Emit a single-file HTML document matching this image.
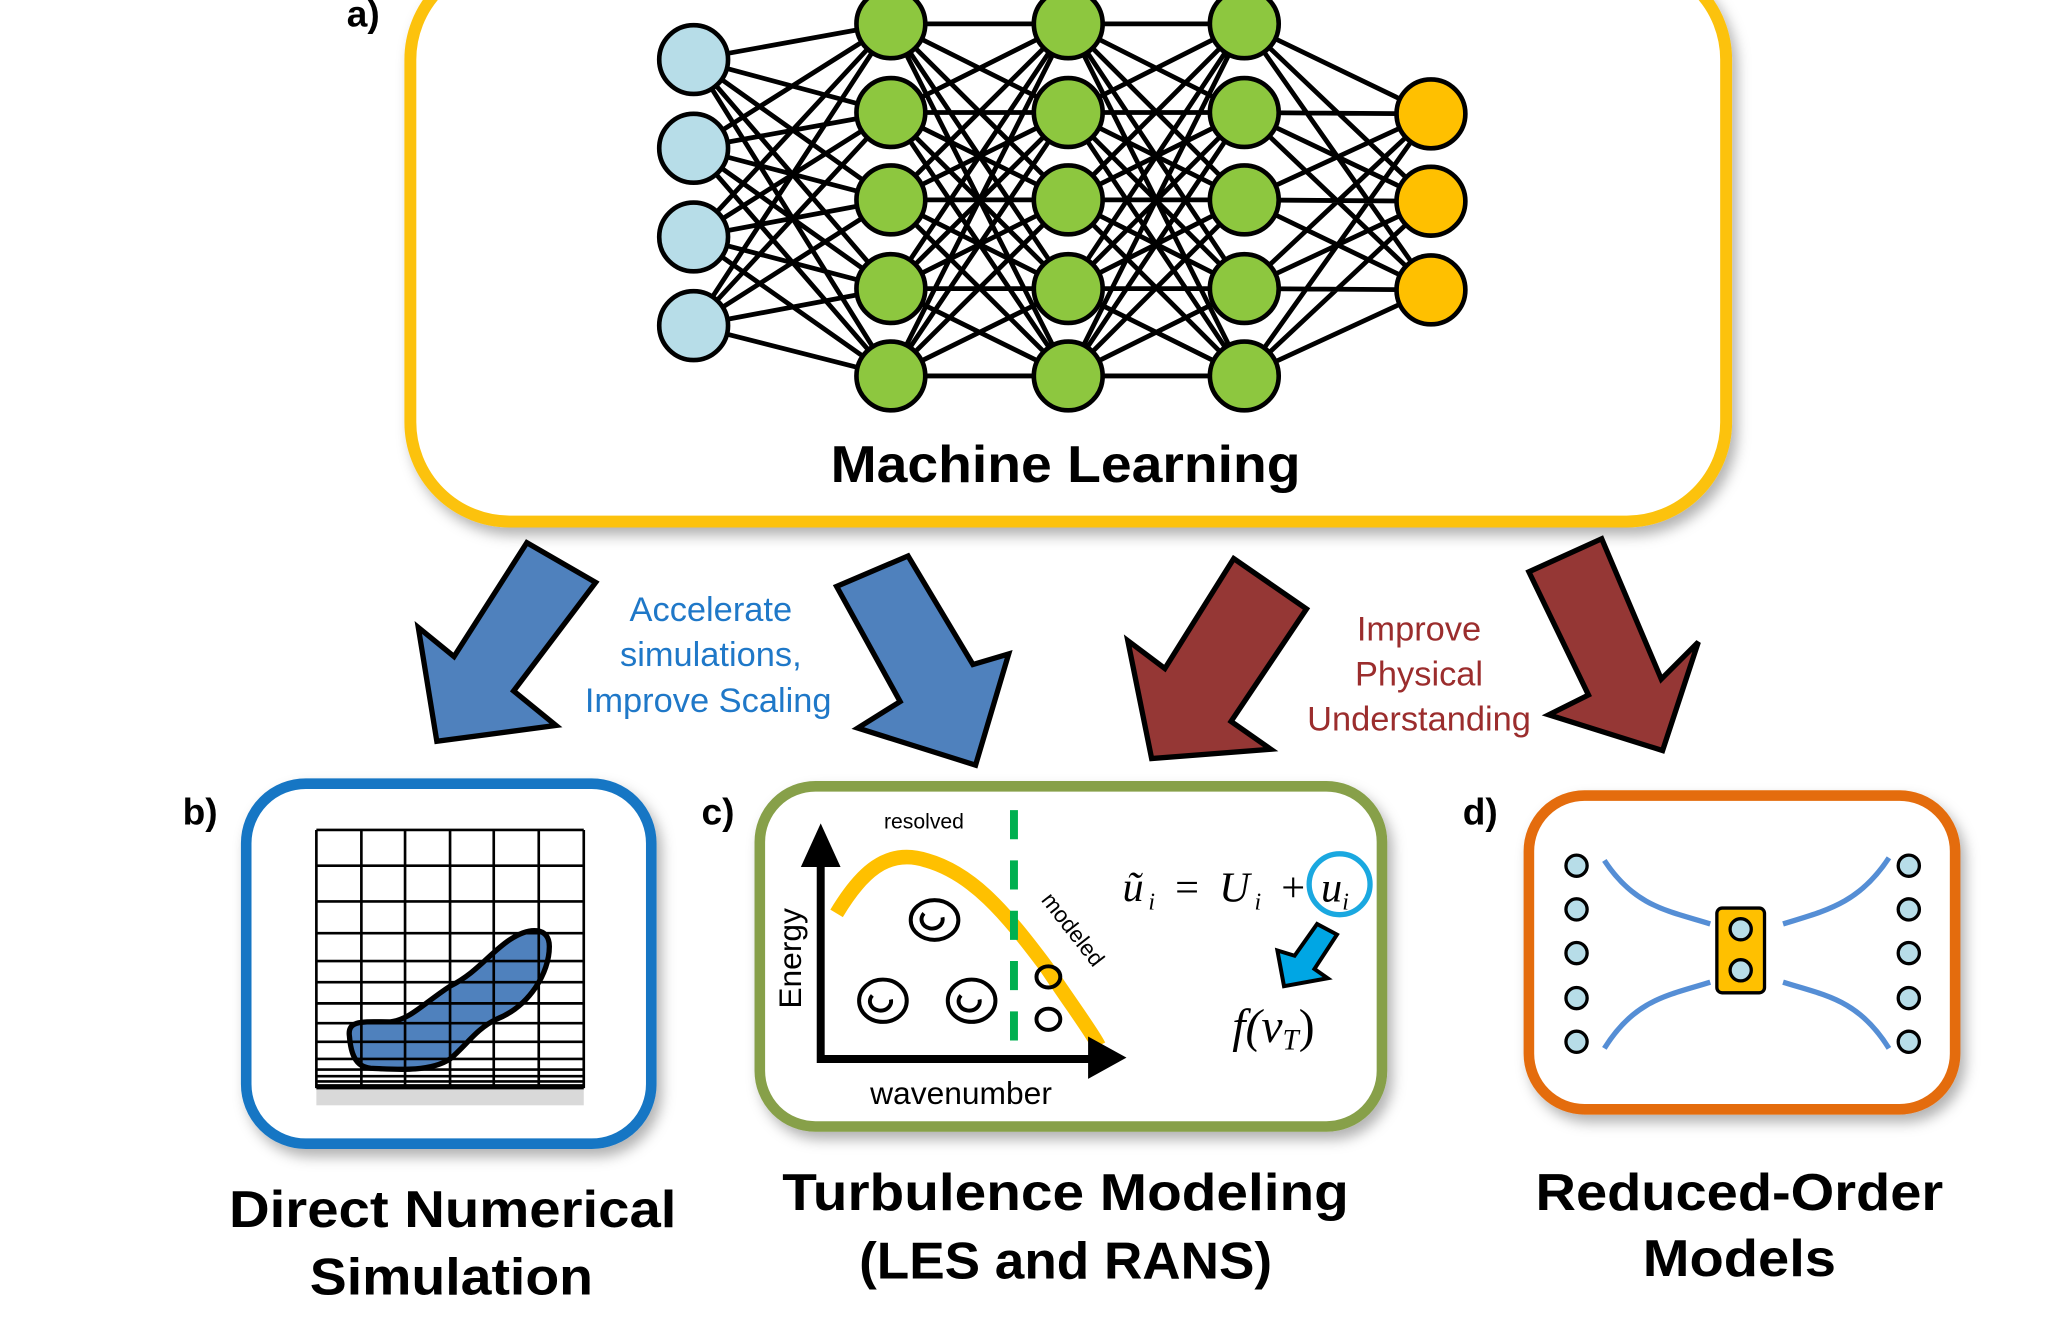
<!DOCTYPE html>
<html><head><meta charset="utf-8"><style>html,body{margin:0;padding:0;background:#fff}svg{display:block}</style></head>
<body>
<svg width="2065" height="1322" viewBox="0 0 1560 998.7" preserveAspectRatio="none" xmlns="http://www.w3.org/2000/svg" font-family="'Liberation Sans', 'DejaVu Sans', sans-serif">
<defs>
<filter id="sh" x="-10%" y="-10%" width="130%" height="130%"><feDropShadow dx="4" dy="6" stdDeviation="5" flood-color="#000" flood-opacity="0.3"/></filter>
</defs>
<rect width="1560" height="1000" fill="#fff"/>
<rect x="310" y="-30" width="994" height="424" rx="75" fill="#fff" stroke="#fcc20a" stroke-width="9" filter="url(#sh)"/>
<text x="262" y="20" font-size="28" font-weight="bold">a)</text>
<g stroke="#000" stroke-width="3.6" fill="none">
<path d="M524 45L673 18M524 45L673 85M524 45L673 151M524 45L673 218M524 45L673 284M524 112L673 18M524 112L673 85M524 112L673 151M524 112L673 218M524 112L673 284M524 179L673 18M524 179L673 85M524 179L673 151M524 179L673 218M524 179L673 284M524 246L673 18M524 246L673 85M524 246L673 151M524 246L673 218M524 246L673 284"/>
<path d="M673 18L807 18M673 18L807 85M673 18L807 151M673 18L807 218M673 18L807 284M673 85L807 18M673 85L807 85M673 85L807 151M673 85L807 218M673 85L807 284M673 151L807 18M673 151L807 85M673 151L807 151M673 151L807 218M673 151L807 284M673 218L807 18M673 218L807 85M673 218L807 151M673 218L807 218M673 218L807 284M673 284L807 18M673 284L807 85M673 284L807 151M673 284L807 218M673 284L807 284"/>
<path d="M807 18L940 18M807 18L940 85M807 18L940 151M807 18L940 218M807 18L940 284M807 85L940 18M807 85L940 85M807 85L940 151M807 85L940 218M807 85L940 284M807 151L940 18M807 151L940 85M807 151L940 151M807 151L940 218M807 151L940 284M807 218L940 18M807 218L940 85M807 218L940 151M807 218L940 218M807 218L940 284M807 284L940 18M807 284L940 85M807 284L940 151M807 284L940 218M807 284L940 284"/>
<path d="M940 18L1081 86M940 18L1081 152M940 18L1081 219M940 85L1081 86M940 85L1081 152M940 85L1081 219M940 151L1081 86M940 151L1081 152M940 151L1081 219M940 218L1081 86M940 218L1081 152M940 218L1081 219M940 284L1081 86M940 284L1081 152M940 284L1081 219"/>
</g>
<g stroke="#000" stroke-width="3.5">
<g fill="#b7dde8"><circle cx="524" cy="45" r="26"/><circle cx="524" cy="112" r="26"/><circle cx="524" cy="179" r="26"/><circle cx="524" cy="246" r="26"/></g>
<g fill="#8dc73f">
<circle cx="673" cy="18" r="26"/><circle cx="673" cy="85" r="26"/><circle cx="673" cy="151" r="26"/><circle cx="673" cy="218" r="26"/><circle cx="673" cy="284" r="26"/>
<circle cx="807" cy="18" r="26"/><circle cx="807" cy="85" r="26"/><circle cx="807" cy="151" r="26"/><circle cx="807" cy="218" r="26"/><circle cx="807" cy="284" r="26"/>
<circle cx="940" cy="18" r="26"/><circle cx="940" cy="85" r="26"/><circle cx="940" cy="151" r="26"/><circle cx="940" cy="218" r="26"/><circle cx="940" cy="284" r="26"/>
</g>
<g fill="#ffc000"><circle cx="1081" cy="86" r="26"/><circle cx="1081" cy="152" r="26"/><circle cx="1081" cy="219" r="26"/></g>
</g>
<text x="805" y="364" font-size="39" font-weight="bold" text-anchor="middle" textLength="355" lengthAdjust="spacingAndGlyphs">Machine Learning</text>
<g stroke="#000" stroke-width="4" stroke-linejoin="miter">
<polygon fill="#4f81bd" points="398,410 450,440 388,522 420,548 330,560 316,474 343,496"/>
<polygon fill="#4f81bd" points="632,443 686,420 735,502 762,494 737,578 648,550 680,530"/>
<polygon fill="#953735" points="932,422 987,460 930,545 960,566 870,573 852,484 880,505"/>
<polygon fill="#953735" points="1155,432 1210,407 1255,513 1283,485 1256,567 1170,540 1200,525"/>
</g>
<g font-size="26" fill="#1f78c8" text-anchor="middle">
<text x="537" y="469">Accelerate</text>
<text x="537" y="503">simulations,</text>
<text x="535" y="538">Improve Scaling</text>
</g>
<g font-size="26" fill="#9b2d2d" text-anchor="middle">
<text x="1072" y="484">Improve</text>
<text x="1072" y="518">Physical</text>
<text x="1072" y="552">Understanding</text>
</g>
<text x="138" y="623" font-size="28" font-weight="bold">b)</text>
<rect x="186" y="592" width="306" height="272" rx="45" fill="#fff" stroke="#1676c4" stroke-width="8" filter="url(#sh)"/>
<rect x="239" y="822" width="202" height="13" fill="#d9d9d9"/>
<path d="M264 783C262 770 275 772 295 772C310 770 320 758 340 745C360 735 370 720 385 710C400 700 415 700 415 715C415 735 400 760 375 770C360 777 352 790 340 800C325 810 300 808 280 807C268 806 265 795 264 783Z" fill="#4f81bd" stroke="#000" stroke-width="4"/>
<g stroke="#000" stroke-width="2" fill="none">
<path d="M239 627V822M273 627V822M306 627V822M340 627V822M373 627V822M407 627V822M441 627V822"/>
<path d="M239 627H441M239 654H441M239 681H441M239 705H441M239 726H441M239 742H441M239 758H441M239 773H441M239 787H441M239 800H441M239 808H441M239 813H441M239 817H441"/>
<path d="M239 821H441" stroke-width="4"/>
</g>
<text x="530" y="623" font-size="28" font-weight="bold">c)</text>
<rect x="574" y="594" width="470" height="257" rx="42" fill="#fff" stroke="#87a04a" stroke-width="8" filter="url(#sh)"/>
<path d="M632 690C650 660 670 640 700 650C735 660 760 690 790 730C810 760 825 780 830 790" fill="none" stroke="#ffc000" stroke-width="11"/>
<path d="M766 612V800" stroke="#00b050" stroke-width="6" stroke-dasharray="22 16"/>
<g stroke="#000" stroke-width="6" fill="none"><path d="M620 802V650M617 800H825"/></g>
<polygon points="605,655 620,622 635,655" fill="#000"/>
<polygon points="822,783 851,799 822,815" fill="#000"/>
<g fill="none" stroke="#000" stroke-width="3">
<ellipse cx="706" cy="695" rx="18" ry="15"/><path d="M698 690a8 7 0 1 0 14 3"/>
<ellipse cx="667" cy="756" rx="18" ry="16"/><path d="M659 752a8 7 0 1 0 14 3"/>
<ellipse cx="734" cy="756" rx="18" ry="16"/><path d="M726 752a8 7 0 1 0 14 3"/>
<ellipse cx="792" cy="738" rx="9" ry="8"/><ellipse cx="792" cy="770" rx="9" ry="8"/>
</g>
<text x="698" y="626" font-size="16" text-anchor="middle">resolved</text>
<text transform="translate(786,680) rotate(52)" font-size="17">modeled</text>
<text transform="translate(605,762) rotate(-90)" font-size="24">Energy</text>
<text x="726" y="834" font-size="24" text-anchor="middle">wavenumber</text>
<text x="848" y="681" font-size="32" font-style="italic" font-family="'Liberation Serif', serif" textLength="138" lengthAdjust="spacing">ũ<tspan font-size="18" dy="6">i</tspan><tspan dy="-6" font-style="normal"> = </tspan>U<tspan font-size="18" dy="6">i</tspan><tspan dy="-6" font-style="normal"> +</tspan></text>
<text x="998" y="681" font-size="32" font-style="italic" font-family="'Liberation Serif', serif">u<tspan font-size="18" dy="6">i</tspan></text>
<circle cx="1012" cy="668" r="23" fill="none" stroke="#1aa8e0" stroke-width="4"/>
<polygon points="995,698 1010,706 993,732 1003,739 970,745 965,718 978,722" fill="#00a6e4" stroke="#000" stroke-width="3"/>
<text x="962" y="787" font-size="36" font-style="italic" font-family="'Liberation Serif', serif" text-anchor="middle">f(ν<tspan font-size="22" dy="6">T</tspan><tspan dy="-6" font-style="normal">)</tspan></text>
<text x="1105" y="623" font-size="28" font-weight="bold">d)</text>
<rect x="1155" y="601" width="322" height="237" rx="42" fill="#fff" stroke="#e46c0a" stroke-width="8" filter="url(#sh)"/>
<g fill="none" stroke="#558ed5" stroke-width="4">
<path d="M1212 650C1235 685 1260 688 1292 698"/><path d="M1212 792C1235 755 1260 752 1292 742"/>
<path d="M1427 648C1404 683 1379 688 1347 698"/><path d="M1427 792C1404 755 1379 752 1347 742"/>
</g>
<rect x="1297" y="686" width="36" height="64" rx="4" fill="#ffc000" stroke="#000" stroke-width="2.5"/>
<g fill="#b7dde8" stroke="#000" stroke-width="2.5">
<circle cx="1315" cy="702" r="8"/><circle cx="1315" cy="733" r="8"/>
<circle cx="1191" cy="654" r="8"/><circle cx="1191" cy="687" r="8"/><circle cx="1191" cy="720" r="8"/><circle cx="1191" cy="754" r="8"/><circle cx="1191" cy="787" r="8"/>
<circle cx="1442" cy="654" r="8"/><circle cx="1442" cy="687" r="8"/><circle cx="1442" cy="720" r="8"/><circle cx="1442" cy="754" r="8"/><circle cx="1442" cy="787" r="8"/>
</g>
<g font-size="39" font-weight="bold" text-anchor="middle">
<text x="342" y="927" textLength="338" lengthAdjust="spacingAndGlyphs">Direct Numerical</text>
<text x="341" y="978" textLength="214" lengthAdjust="spacingAndGlyphs">Simulation</text>
<text x="805" y="914" textLength="428" lengthAdjust="spacingAndGlyphs">Turbulence Modeling</text>
<text x="805" y="966" textLength="312" lengthAdjust="spacingAndGlyphs">(LES and RANS)</text>
<text x="1314" y="914" textLength="308" lengthAdjust="spacingAndGlyphs">Reduced-Order</text>
<text x="1314" y="964" textLength="146" lengthAdjust="spacingAndGlyphs">Models</text>
</g>
</svg>
</body></html>
